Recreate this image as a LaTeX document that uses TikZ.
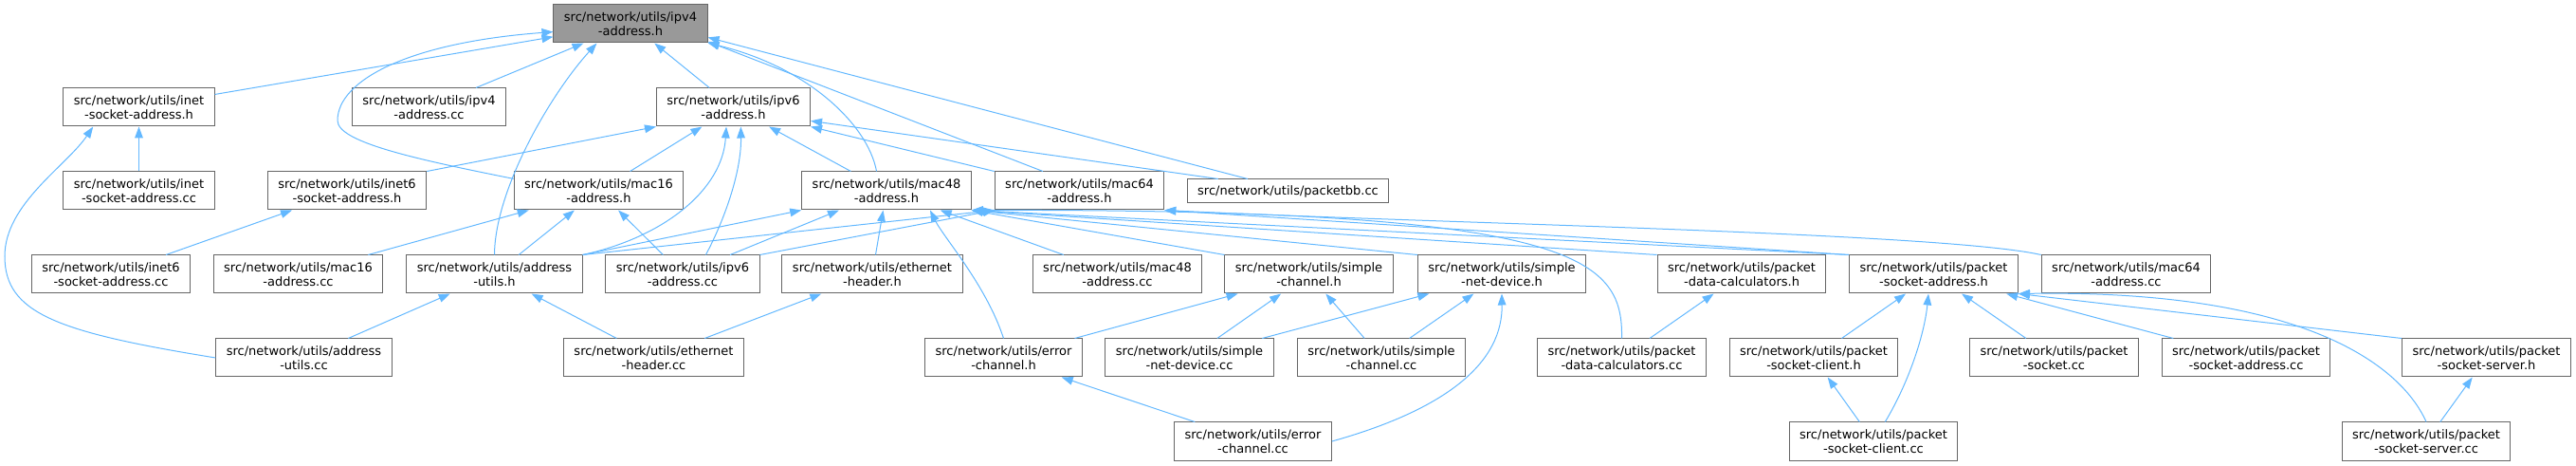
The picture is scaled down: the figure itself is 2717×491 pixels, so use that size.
\documentclass[tikz,border=0pt]{standalone}
\usepackage{fontspec}
\setmainfont{DejaVu Sans}
\usetikzlibrary{arrows.meta}
\definecolor{edgeblue}{HTML}{63B8FF}
\definecolor{boxgrey}{HTML}{666666}
\definecolor{rootgrey}{HTML}{999999}

\begin{document}
\begin{tikzpicture}[x=0.75pt, y=-0.75pt,
        srcfile/.style={draw=boxgrey, fill=white, line width=0.75pt, align=center,
            inner xsep=8.25pt, inner ysep=0pt, minimum height=30pt,
            font=\fontsize{9.75}{11.25}\selectfont},
        rootfile/.style={srcfile, fill=rootgrey},
        dep/.style={draw=edgeblue, line width=0.75pt, -{Triangle[length=9pt,width=6.5pt]}}]
        \useasboundingbox (0,0) rectangle (2717,491);

        \node [rootfile] (ipv4h) at (665,25) {src/network/utils/ipv4\\-address.h};

        \node [srcfile] (inetsah) at (146.5,113) {src/network/utils/inet\\-socket-address.h};
        \node [srcfile] (ipv4cc) at (452.5,113) {src/network/utils/ipv4\\-address.cc};
        \node [srcfile] (ipv6h) at (773.5,113) {src/network/utils/ipv6\\-address.h};

        \node [srcfile] (inetsacc) at (146.5,201) {src/network/utils/inet\\-socket-address.cc};
        \node [srcfile] (inet6sah) at (366,201) {src/network/utils/inet6\\-socket-address.h};
        \node [srcfile] (mac16h) at (631.5,201) {src/network/utils/mac16\\-address.h};
        \node [srcfile] (mac48h) at (935,201) {src/network/utils/mac48\\-address.h};
        \node [srcfile] (mac64h) at (1138.5,201) {src/network/utils/mac64\\-address.h};
        \node [srcfile, minimum height=18.75pt] (packetbb) at (1358.5,201.5) {src/network/utils/packetbb.cc};

        \node [srcfile] (inet6sacc) at (117,289) {src/network/utils/inet6\\-socket-address.cc};
        \node [srcfile] (mac16cc) at (314.5,289) {src/network/utils/mac16\\-address.cc};
        \node [srcfile] (addrh) at (521.5,289) {src/network/utils/address\\-utils.h};
        \node [srcfile] (ipv6cc) at (720,289) {src/network/utils/ipv6\\-address.cc};
        \node [srcfile] (etherh) at (920,289) {src/network/utils/ethernet\\-header.h};
        \node [srcfile] (mac48cc) at (1178.5,289) {src/network/utils/mac48\\-address.cc};
        \node [srcfile] (simplech) at (1380.5,289) {src/network/utils/simple\\-channel.h};
        \node [srcfile] (simplendh) at (1584,289) {src/network/utils/simple\\-net-device.h};
        \node [srcfile] (pdch) at (1837,289) {src/network/utils/packet\\-data-calculators.h};
        \node [srcfile] (psah) at (2039.5,289) {src/network/utils/packet\\-socket-address.h};
        \node [srcfile] (mac64cc) at (2242.5,289) {src/network/utils/mac64\\-address.cc};

        \node [srcfile] (addrcc) at (320.5,377) {src/network/utils/address\\-utils.cc};
        \node [srcfile] (ethercc) at (689.5,377) {src/network/utils/ethernet\\-header.cc};
        \node [srcfile] (errchh) at (1058.5,377) {src/network/utils/error\\-channel.h};
        \node [srcfile] (simplendcc) at (1254.5,377) {src/network/utils/simple\\-net-device.cc};
        \node [srcfile] (simplechcc) at (1457,377) {src/network/utils/simple\\-channel.cc};
        \node [srcfile] (pdccc) at (1710.5,377) {src/network/utils/packet\\-data-calculators.cc};
        \node [srcfile] (psch) at (1913,377) {src/network/utils/packet\\-socket-client.h};
        \node [srcfile] (packetsockcc) at (2166.5,377) {src/network/utils/packet\\-socket.cc};
        \node [srcfile] (psacc) at (2369,377) {src/network/utils/packet\\-socket-address.cc};
        \node [srcfile] (pssh) at (2622.5,377) {src/network/utils/packet\\-socket-server.h};

        \node [srcfile] (errchcc) at (1321.5,465) {src/network/utils/error\\-channel.cc};
        \node [srcfile] (psccc) at (1976,465) {src/network/utils/packet\\-socket-client.cc};
        \node [srcfile] (psscc) at (2559,465) {src/network/utils/packet\\-socket-server.cc};

        \draw [dep] (inetsah) -- (ipv4h);
        \draw [dep] (mac16h.172) .. controls (440,168) and (356,150) .. (356,127)
            .. controls (356,85) and (430,45) .. (ipv4h.186);
        \draw [dep] (addrh.north) .. controls (522,200) and (580,100) .. (ipv4h.210);
        \draw [dep] (ipv4cc) -- (ipv4h);
        \draw [dep] (ipv6h) -- (ipv4h);
        \draw [dep] (mac48h.117) .. controls (915,130) and (850,70) .. (ipv4h.-14);
        \draw [dep] (mac64h.152) -- (ipv4h.-13);
        \draw [dep] (packetbb.163) -- (ipv4h.-10);

        \draw [dep] (inet6sah.north east) -- (ipv6h.south west);
        \draw [dep] (mac16h) -- (ipv6h);
        \draw [dep] (addrh.north east) .. controls (700,250) and (762,200) .. (ipv6h.250);
        \draw [dep] (ipv6cc.40) .. controls (765,230) and (782,180) .. (ipv6h.291);
        \draw [dep] (mac48h) -- (ipv6h);
        \draw [dep] (mac64h.north west) -- (ipv6h.south east);
        \draw [dep] (packetbb.170) -- (ipv6h.-10);

        \draw [dep] (inetsacc) -- (inetsah);
        \draw [dep] (addrcc.west) .. controls (60,350) and (5,330) .. (5,270)
            .. controls (5,215) and (70,175) .. (inetsah.203);
        \draw [dep] (inet6sacc) -- (inet6sah);

        \draw [dep] (mac16cc) -- (mac16h);
        \draw [dep] (addrh) -- (mac16h);
        \draw [dep] (ipv6cc) -- (mac16h);

        \draw [dep] (addrh.north east) -- (mac48h.south west);
        \draw [dep] (ipv6cc) -- (mac48h);
        \draw [dep] (etherh) -- (mac48h);
        \draw [dep] (errchh.north) .. controls (1040,300) and (995,250) .. (mac48h.-24);
        \draw [dep] (mac48cc) -- (mac48h);
        \draw [dep] (simplech.north west) -- (mac48h.south east);
        \draw [dep] (simplendh.north west) -- (mac48h.south east);
        \draw [dep] (pdch.north west) -- (mac48h.south east);
        \draw [dep] (pdccc.north) .. controls (1712,270) and (1660,220) .. (mac48h.south east);
        \draw [dep] (psah.north west) -- (mac48h.south east);

        \draw [dep] (addrh.north east) -- (mac64h.south west);
        \draw [dep] (ipv6cc.north east) -- (mac64h.south west);
        \draw [dep] (mac64cc.north west) .. controls (2050,245) and (1500,235) .. (mac64h.south east);
        \draw [dep] (psah.north west) -- (mac64h.south east);

        \draw [dep] (addrcc) -- (addrh);
        \draw [dep] (ethercc) -- (addrh);
        \draw [dep] (ethercc) -- (etherh);

        \draw [dep] (errchh) -- (simplech);
        \draw [dep] (simplendcc) -- (simplech);
        \draw [dep] (simplechcc) -- (simplech);
        \draw [dep] (simplendcc) -- (simplendh);
        \draw [dep] (simplechcc) -- (simplendh);
        \draw [dep] (errchcc.east) .. controls (1530,430) and (1585,380) .. (simplendh.south);
        \draw [dep] (errchcc) -- (errchh);

        \draw [dep] (pdccc) -- (pdch);

        \draw [dep] (psch) -- (psah);
        \draw [dep] (psccc.59) .. controls (2015,400) and (2030,350) .. (psah.255);
        \draw [dep] (packetsockcc) -- (psah);
        \draw [dep] (psacc) -- (psah);
        \draw [dep] (pssh.north west) -- (psah.south east);
        \draw [dep] (psscc.north) .. controls (2530,380) and (2420,305) .. (psah.south east);
        \draw [dep] (psscc) -- (pssh);
        \draw [dep] (psccc) -- (psch);
\end{tikzpicture}
\end{document}
